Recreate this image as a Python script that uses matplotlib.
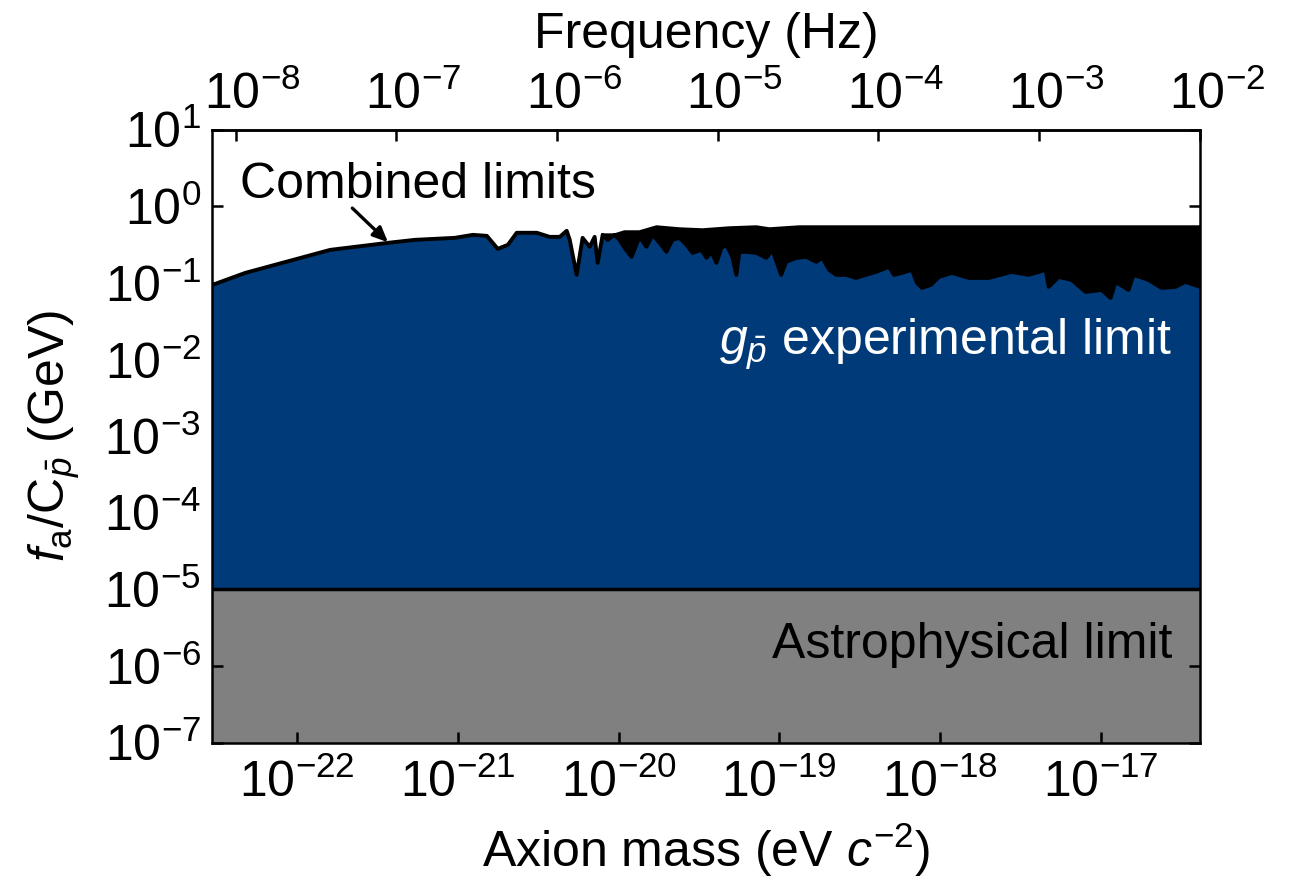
import numpy as np
import matplotlib
matplotlib.use("Agg")
import matplotlib.pyplot as plt
from matplotlib.ticker import LogFormatterSciNotation, NullLocator, FixedLocator
from matplotlib.transforms import ScaledTranslation

# —–––– Fonts —––––
plt.rcParams['font.family'] = ['Liberation Sans', 'DejaVu Sans']
plt.rcParams['mathtext.fontset'] = 'custom'
plt.rcParams['mathtext.rm'] = 'Liberation Sans'
plt.rcParams['mathtext.it'] = 'Liberation Sans:italic'
plt.rcParams['mathtext.bf'] = 'Liberation Sans:bold'

# —–––– Data (log10 values) —––––
# blue region top: log10 axion mass (eV) and log10 f_a/C (GeV)
limit_logm = [-22.528, -22.323, -21.795, -21.435, -21.267, -21.019, -20.907, -20.820,
              -20.752, -20.689, -20.634, -20.509, -20.429, -20.366, -20.323,
              -20.304, -20.261, -20.224, -20.180, -20.149, -20.130, -20.099, -20.068,
              -20.025, -19.994, -19.963, -19.919, -19.870, -19.826, -19.789, -19.745,
              -19.702, -19.665, -19.621, -19.578, -19.540, -19.484, -19.453, -19.422,
              -19.391, -19.360, -19.329, -19.292, -19.267, -19.248, -19.205, -19.143,
              -19.081, -19.043, -18.988, -18.957, -18.894, -18.832, -18.770, -18.733,
              -18.689, -18.646, -18.584, -18.522, -18.460, -18.398, -18.317, -18.286,
              -18.236, -18.174, -18.143, -18.112, -18.056, -18.006, -17.925, -17.820,
              -17.696, -17.553, -17.447, -17.342, -17.323, -17.261, -17.180, -17.093,
              -16.994, -16.938, -16.907, -16.826, -16.795, -16.702, -16.621, -16.534,
              -16.472, -16.380]
limit_logf = [-1.026, -0.869, -0.569, -0.477, -0.438, -0.412, -0.373, -0.386,
              -0.556, -0.503, -0.346, -0.346, -0.399, -0.399, -0.320,
              -0.438, -0.895, -0.412, -0.529, -0.399, -0.739, -0.373, -0.438,
              -0.373, -0.438, -0.542, -0.660, -0.399, -0.529, -0.373, -0.477,
              -0.595, -0.438, -0.412, -0.503, -0.608, -0.569, -0.673, -0.595,
              -0.739, -0.542, -0.503, -0.660, -0.895, -0.595, -0.595, -0.608,
              -0.673, -0.569, -0.895, -0.725, -0.673, -0.660, -0.725, -0.673,
              -0.830, -0.895, -0.895, -0.935, -0.895, -0.856, -0.791, -0.895,
              -0.869, -0.830, -1.000, -1.065, -1.026, -0.922, -0.869, -0.935,
              -0.935, -0.856, -0.895, -0.830, -1.052, -0.922, -0.961, -1.118,
              -1.092, -1.196, -0.987, -1.092, -0.895, -0.961, -1.065, -1.052,
              -0.987, -1.052]

# top of the dense oscillation (black band)
env_logm = [-20.099, -20.025, -19.963, -19.870, -19.764, -19.621, -19.478, -19.311,
            -19.143, -19.062, -18.876, -18.255, -17.323, -16.380]
env_logf = [-0.373, -0.373, -0.333, -0.333, -0.268, -0.294, -0.307, -0.281,
            -0.268, -0.294, -0.268, -0.268, -0.268, -0.268]

astro_limit = 1e-5
y_min, y_max = 1e-7, 1e1
x_min, x_max = 2.95e-23, 4.15e-17
h_eVs = 4.135667e-15  # Planck constant, eV s

mass_ticks = [1e-22, 1e-21, 1e-20, 1e-19, 1e-18, 1e-17]
fa_ticks = [1e-7, 1e-6, 1e-5, 1e-4, 1e-3, 1e-2, 1e-1, 1e0, 1e1]
freq_ticks = [1e-8, 1e-7, 1e-6, 1e-5, 1e-4, 1e-3, 1e-2]

blue = '#003a78'
gray = '#808080'
FS = 36

m_lim = 10.0 ** np.array(limit_logm)
f_lim = 10.0 ** np.array(limit_logf)
m_env = 10.0 ** np.array(env_logm)
f_env = 10.0 ** np.array(env_logf)

# —–––– Figure —––––
fig = plt.figure(figsize=(12.93, 8.82), dpi=100)
ax = fig.add_axes([0.164, 0.158, 0.764, 0.695])

ax.set_xscale('log')
ax.set_yscale('log')
ax.set_xlim(x_min, x_max)
ax.set_ylim(y_min, y_max)

# astrophysical region
ax.axhspan(y_min, astro_limit, color=gray, lw=0, zorder=1)
# experimental region
ax.fill_between(m_lim, astro_limit, f_lim, color=blue, lw=0, zorder=2)
# dense oscillation band
start = np.searchsorted(m_lim, m_env[0])
band_x = np.concatenate([m_env, m_lim[start:][::-1]])
band_y = np.concatenate([f_env, f_lim[start:][::-1]])
ax.fill(band_x, band_y, color='black', lw=0, zorder=3)
ax.plot(m_lim, f_lim, color='black', lw=2.8, zorder=4, solid_joinstyle='round')
ax.plot(m_env, f_env, color='black', lw=2.2, zorder=4)
ax.axhline(astro_limit, color='black', lw=2.5, zorder=4)

# —–––– Axes styling —––––
for sp in ax.spines.values():
    sp.set_linewidth(1.8)
    sp.set_zorder(6)

ax.xaxis.set_major_locator(FixedLocator(mass_ticks))
ax.yaxis.set_major_locator(FixedLocator(fa_ticks))
ax.xaxis.set_minor_locator(NullLocator())
ax.yaxis.set_minor_locator(NullLocator())
ax.xaxis.set_major_formatter(LogFormatterSciNotation())
ax.yaxis.set_major_formatter(LogFormatterSciNotation())
ax.tick_params(axis='both', which='major', direction='in', length=8, width=1.8,
               labelsize=FS, pad=12, right=True)
ax.tick_params(axis='y', pad=8)

ax.set_xlabel(r'Axion mass (eV $c^{-2}$)', fontsize=FS, labelpad=10)
ax.set_ylabel(r'$f_\mathrm{a}/\mathrm{C}_{\bar{p}}$ (GeV)', fontsize=FS, labelpad=16)

sec = ax.secondary_xaxis('top', functions=(lambda m: m / h_eVs, lambda f: f * h_eVs))
sec.xaxis.set_major_locator(FixedLocator(freq_ticks))
sec.xaxis.set_minor_locator(NullLocator())
sec.xaxis.set_major_formatter(LogFormatterSciNotation())
sec.tick_params(axis='x', direction='in', length=8, width=1.8, labelsize=FS, pad=8)
sec.spines['top'].set_linewidth(1.8)
sec.set_xlabel('Frequency (Hz)', fontsize=FS, labelpad=16)

# —–––– Annotations —––––
ax.text(0.028, 0.91, 'Combined limits', transform=ax.transAxes, fontsize=FS,
        ha='left', va='center', zorder=7)
ax.annotate('', xy=(10 ** -21.435, 10 ** -0.47), xycoords='data',
            xytext=(0.142, 0.872), textcoords='axes fraction',
            arrowprops=dict(arrowstyle='-|>,head_length=0.9,head_width=0.4',
                            color='black', lw=2.4, shrinkA=0, shrinkB=0), zorder=7)
ax.text(0.972, 0.649, r'$g_{\bar{p}}$ experimental limit', transform=ax.transAxes,
        fontsize=FS, color='white', ha='right', va='center', zorder=7)
ax.text(0.972, 0.160, 'Astrophysical limit', transform=ax.transAxes,
        fontsize=FS, color='black', ha='right', va='center', zorder=7)

# top labels sit a little right of their ticks in the original
fig.canvas.draw()
shift = ScaledTranslation(0.17, 0, fig.dpi_scale_trans)
for tick in sec.xaxis.get_major_ticks():
    tick.label2.set_transform(tick.label2.get_transform() + shift)

fig.savefig('out.png', dpi=100)
